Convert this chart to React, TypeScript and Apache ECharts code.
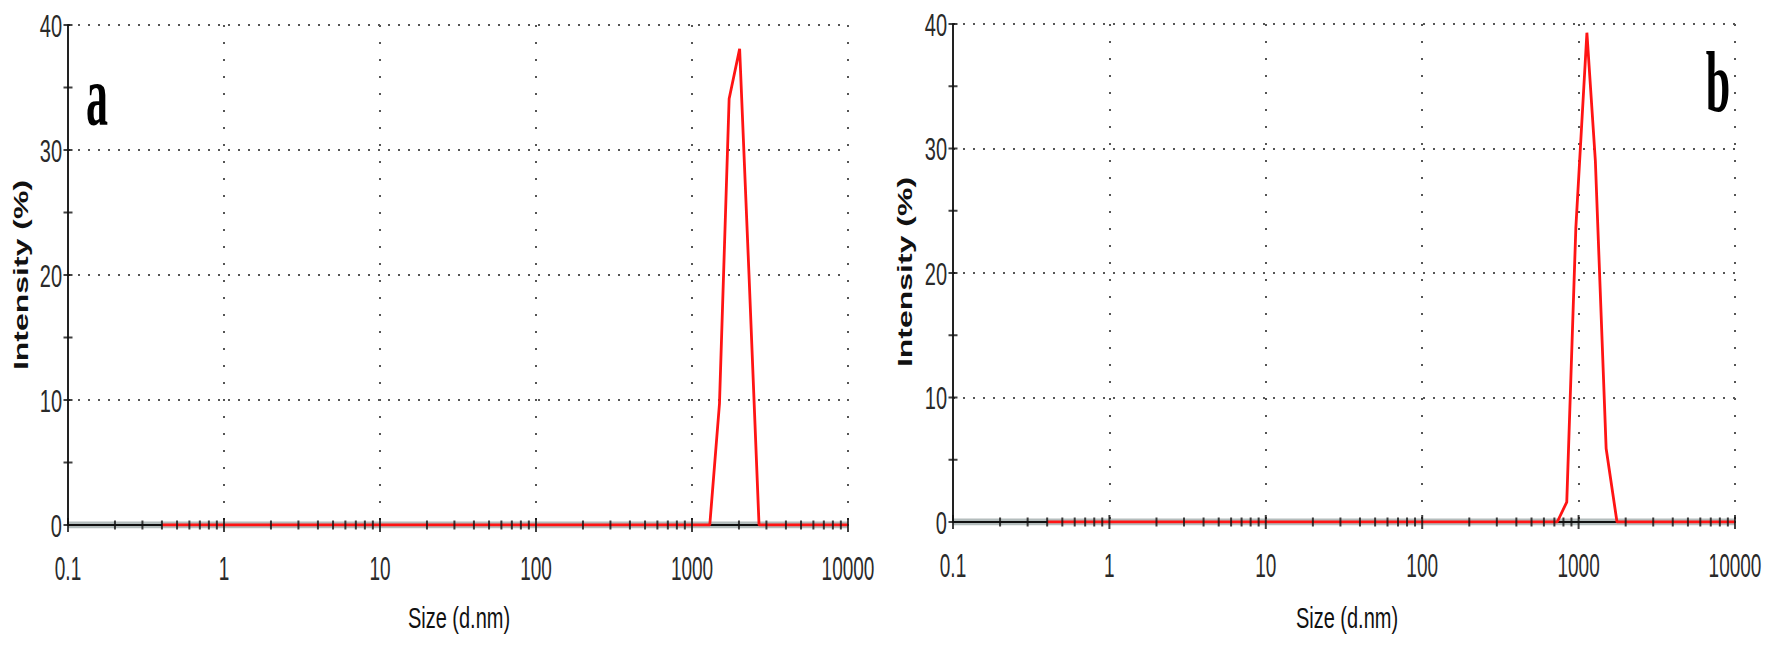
import React, { useEffect, useRef } from "react";
import * as echarts from "echarts";

// ---- data ----
const xTicks = [0.1, 1, 10, 100, 1000, 10000];
const xTickLabels = ["0.1", "1", "10", "100", "1000", "10000"];
const yTicks = [0, 10, 20, 30, 40];
const yTickLabels = ["0", "10", "20", "30", "40"];
const minorMultipliers = [2, 3, 4, 5, 6, 7, 8, 9];
const minorDecades = [0.1, 1, 10, 100, 1000];
const yMinorTicks = [5, 15, 25, 35];

const sizeA = [0.4, 1300, 1500, 1730, 2020, 2320, 2690, 10000];
const intensityA = [0, 0, 9.7, 34.1, 38.1, 20, 0, 0];
const sizeB = [0.4, 730, 840, 960, 1130, 1280, 1500, 1760, 10000];
const intensityB = [0, 0, 1.6, 23.6, 39.3, 29.0, 5.9, 0, 0];

const panelLetters = ["a", "b"];
const xName = "Size (d.nm)";
const yName = "Intensity (%)";

const SANS = '"Liberation Sans", Arial, sans-serif';
const SERIF = '"Liberation Serif", "Times New Roman", serif';

function buildPanelSeries(idx: number, sizes: number[], vals: number[]) {
  const minor: number[][] = [];
  minorDecades.forEach((d) =>
    minorMultipliers.forEach((m) => minor.push([+(m * d).toPrecision(3), 0]))
  );
  const common = { xAxisIndex: idx * 2, yAxisIndex: idx, silent: true };
  return [
    {
      ...common,
      type: "line",
      data: [
        [0.1, 0],
        [10000, 0],
      ],
      symbol: "none",
      lineStyle: { color: "rgba(130,145,145,0.6)", width: 7 },
      z: 0,
    },
    {
      ...common,
      type: "line",
      data: sizes.map((s, i) => [s, vals[i]]),
      symbol: "none",
      lineStyle: { color: "#ff1414", width: 2.8 },
      z: 3,
    },
    {
      ...common,
      type: "scatter",
      data: minor,
      symbol: "rect",
      symbolSize: [2, 9],
      itemStyle: { color: "#111" },
      z: 4,
    },
    {
      ...common,
      type: "scatter",
      data: xTicks.map((t) => [t, 0]),
      symbol: "rect",
      symbolSize: [2, 14],
      itemStyle: { color: "#111" },
      z: 4,
    },
    {
      ...common,
      type: "scatter",
      data: yTicks.concat(yMinorTicks).map((v) => [0.1, v]),
      symbol: "rect",
      symbolSize: [9, 2],
      itemStyle: { color: "#111" },
      z: 4,
    },
    {
      ...common,
      type: "custom",
      clip: false,
      data: xTicks.map((t) => [t, 0]),
      renderItem: (params: any, api: any) => {
        const p = api.coord([api.value(0), api.value(1)]);
        return {
          type: "text",
          x: p[0],
          y: p[1] + 44,
          scaleY: 1.7,
          style: {
            text: xTickLabels[params.dataIndex],
            fontSize: 19,
            fontFamily: SANS,
            fill: "#2a2a2a",
            align: "center",
            verticalAlign: "middle",
          },
        };
      },
      z: 5,
    },
    {
      ...common,
      type: "custom",
      clip: false,
      data: yTicks.map((v) => [0.1, v]),
      renderItem: (params: any, api: any) => {
        const p = api.coord([api.value(0), api.value(1)]);
        return {
          type: "text",
          x: p[0] - 6,
          y: p[1] + 1,
          scaleY: 1.6,
          style: {
            text: yTickLabels[params.dataIndex],
            fontSize: 20,
            fontFamily: SANS,
            fill: "#2a2a2a",
            align: "right",
            verticalAlign: "middle",
          },
        };
      },
      z: 5,
    },
  ];
}

export default function App() {
  const ref = useRef<HTMLDivElement>(null);
  useEffect(() => {
    document.body.style.margin = "0";
    const chart = echarts.init(ref.current!, undefined, { renderer: "svg" });
    const grids = [
      { left: 68, top: 25, width: 780, height: 500 },
      { left: 953, top: 24, width: 782, height: 498 },
    ];
    const xAxes: any[] = [];
    const yAxes: any[] = [];
    grids.forEach((_, i) => {
      xAxes.push({
        gridIndex: i,
        type: "log",
        logBase: 10,
        min: 0.1,
        max: 10000,
        z: 1,
        axisLine: { show: true, onZero: false, lineStyle: { color: "#111", width: 2 } },
        axisTick: { show: false },
        axisLabel: { show: false },
        splitLine: {
          show: true,
          lineStyle: { color: "#555", width: 2, type: [2, 15] },
        },
      });
      xAxes.push({
        gridIndex: i,
        type: "log",
        logBase: 10,
        min: 0.1,
        max: 10000,
        show: false,
      });
      yAxes.push({
        gridIndex: i,
        type: "value",
        min: 0,
        max: 40,
        interval: 10,
        z: 1,
        axisLine: { show: true, onZero: false, lineStyle: { color: "#222", width: 2 } },
        axisTick: { show: false },
        axisLabel: { show: false },
        splitLine: {
          show: true,
          lineStyle: { color: "#555", width: 2, type: [2, 8] },
        },
      });
    });

    const nameStyle = (text: string, x: number, y: number, rot: boolean) => ({
      type: "text",
      x,
      y,
      rotation: rot ? Math.PI / 2 : 0,
      scaleX: rot ? 1.6 : 1,
      scaleY: rot ? 1 : 1.45,
      style: {
        text,
        font: rot ? `bold 20px ${SANS}` : `20px ${SANS}`,
        fill: "#111",
        align: "center",
        verticalAlign: "middle",
      },
    });

    chart.setOption({
      animation: false,
      backgroundColor: "#fff",
      grid: grids,
      xAxis: xAxes,
      yAxis: yAxes,
      series: [
        ...buildPanelSeries(0, sizeA, intensityA),
        ...buildPanelSeries(1, sizeB, intensityB),
      ],
      graphic: [
        nameStyle(yName, 21, 275, true),
        nameStyle(yName, 905, 272, true),
        nameStyle(xName, 459, 618, false),
        nameStyle(xName, 1347, 618, false),
        {
          type: "text",
          x: 97,
          y: 96,
          scaleY: 1.95,
          style: {
            text: panelLetters[0],
            font: `bold 44px ${SERIF}`,
            fill: "#000",
            align: "center",
            verticalAlign: "middle",
          },
        },
        {
          type: "text",
          x: 1718,
          y: 82,
          scaleY: 1.95,
          style: {
            text: panelLetters[1],
            font: `bold 44px ${SERIF}`,
            fill: "#000",
            align: "center",
            verticalAlign: "middle",
          },
        },
      ],
    });
    return () => chart.dispose();
  }, []);
  return <div ref={ref} style={{ width: 1772, height: 645 }} />;
}
